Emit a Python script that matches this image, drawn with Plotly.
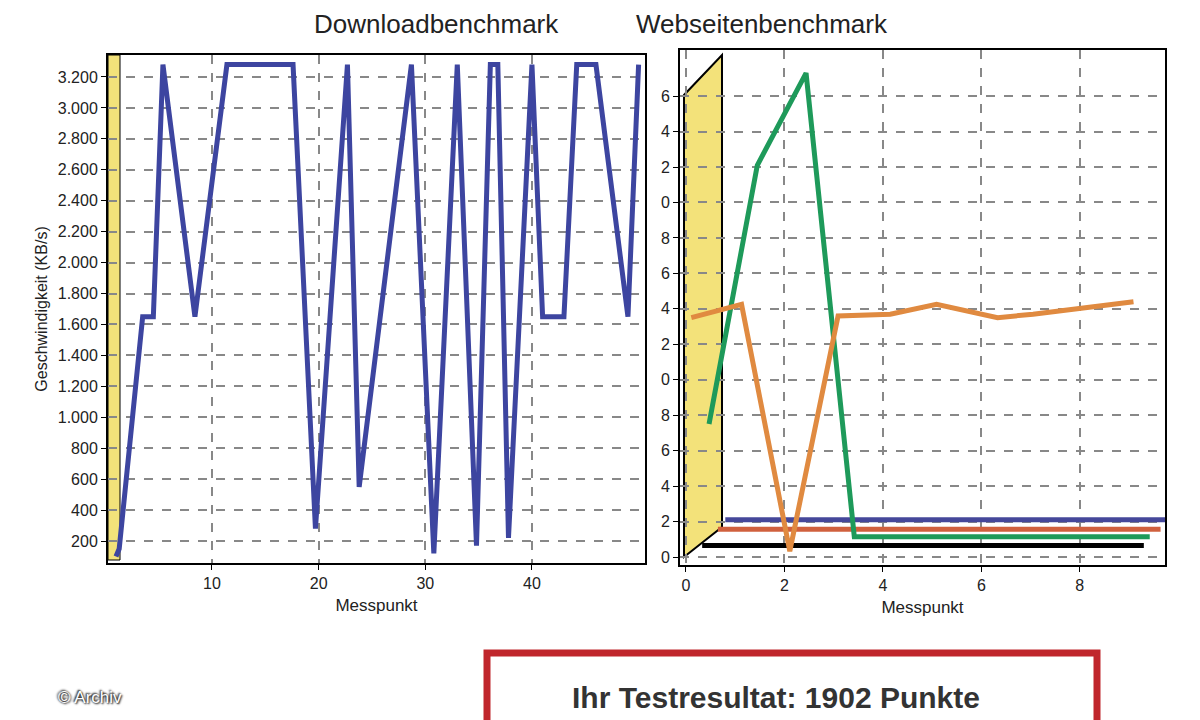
import plotly.graph_objects as go

# Download benchmark
dl_x = [1, 1.3, 3.5, 4.5, 5.4, 8.4, 11.4, 17.6, 19.7, 22.7, 23.8, 28.7, 30.8, 33, 34.8, 36.1, 36.8, 37.8, 40, 41, 43, 44.2, 46, 49, 50]
dl_y = [100, 150, 1650, 1650, 3280, 1650, 3280, 3280, 280, 3280, 550, 3280, 120, 3280, 170, 3280, 3280, 220, 3280, 1650, 1650, 3280, 3280, 1650, 3280]
dl_ticks = [200, 400, 600, 800, 1000, 1200, 1400, 1600, 1800, 2000, 2200, 2400, 2600, 2800, 3000, 3200]
dl_ticktext = ["200", "400", "600", "800", "1.000", "1.200", "1.400", "1.600", "1.800", "2.000", "2.200", "2.400", "2.600", "2.800", "3.000", "3.200"]

# Website benchmark
green_x = [0.47, 1.45, 2.44, 3.42, 9.42]
green_y = [7.5, 22.1, 27.3, 1.15, 1.15]
orange_x = [0.11, 1.13, 2.11, 3.09, 4.15, 5.09, 6.33, 7.05, 9.09]
orange_y = [13.5, 14.25, 0.33, 13.6, 13.7, 14.25, 13.5, 13.7, 14.4]
blue_x = [0.8, 9.8]; blue_y = [2.1, 2.1]
red_x = [0.65, 9.64]; red_y = [1.57, 1.57]
black_x = [0.33, 9.3]; black_y = [0.65, 0.65]
ws_ticks = list(range(0, 27, 2))
ws_ticktext = [str(v)[-1] for v in ws_ticks]

W, H = 1200, 720
OFF = 8  # page body margin
def px(x): return (x - OFF) / W
def py(y): return 1 - (y - OFF) / H

fig = go.Figure()
fig.add_trace(go.Scatter(x=dl_x, y=dl_y, mode="lines", line=dict(color="#3d45a0", width=5), xaxis="x", yaxis="y"))
for xs, ys, c in [(blue_x, blue_y, "#45479a"), (red_x, red_y, "#d0603e"), (black_x, black_y, "#000000"),
                  (green_x, green_y, "#1e9a5a"), (orange_x, orange_y, "#e08a40")]:
    fig.add_trace(go.Scatter(x=xs, y=ys, mode="lines", line=dict(color=c, width=5), xaxis="x2", yaxis="y2"))

grid = dict(showgrid=True, gridcolor="#888", griddash="dash", gridwidth=1.5, zeroline=False,
            showline=True, linecolor="black", linewidth=2, mirror=True, ticks="outside",
            tickcolor="black", tickfont=dict(size=16, color="#222"))
fig.update_layout(
    width=W, height=H, margin=dict(l=0, r=0, t=0, b=0), showlegend=False,
    paper_bgcolor="white", plot_bgcolor="white", font=dict(family="Liberation Sans, Arial", color="#222"),
    xaxis=dict(domain=[px(108), px(645)], range=[0.25, 50.6], tickvals=[10, 20, 30, 40],
               title=dict(text="Messpunkt", font=dict(size=17), standoff=8), **grid),
    yaxis=dict(domain=[py(563), py(55)], range=[58, 3342], tickvals=dl_ticks, ticktext=dl_ticktext,
               title=dict(text="Geschwindigkeit (KB/s)", font=dict(size=16), standoff=6), **grid),
    xaxis2=dict(domain=[px(680), px(1165)], range=[-0.12, 9.73], tickvals=[0, 2, 4, 6, 8], anchor="y2",
                title=dict(text="Messpunkt", font=dict(size=17), standoff=8), **grid),
    yaxis2=dict(domain=[py(565), py(50)], range=[-0.45, 28.6], tickvals=ws_ticks, ticktext=ws_ticktext,
                anchor="x2", **grid),
)
# yellow side walls
fig.add_shape(type="rect", xref="paper", yref="paper", x0=px(108), x1=px(120), y0=py(560), y1=py(55),
              fillcolor="#f3e27a", line=dict(color="black", width=1), layer="below")
fig.add_shape(type="path", xref="paper", yref="paper",
              path=f"M {px(684)},{py(557)} L {px(722)},{py(527)} L {px(722)},{py(55)} L {px(684)},{py(95)} Z",
              fillcolor="#f3e27a", line=dict(color="black", width=2), layer="below")
# titles
fig.add_annotation(x=px(312), y=py(24), xref="paper", yref="paper", yanchor="middle", text="Downloadbenchmark",
                   showarrow=False, font=dict(size=26, color="#222"))
fig.add_annotation(x=px(890), y=py(24), xref="paper", yref="paper", yanchor="middle", text="Webseitenbenchmark",
                   showarrow=False, font=dict(size=26, color="#222"))
# result box
fig.add_shape(type="rect", xref="paper", yref="paper", x0=px(487), x1=px(1097), y0=py(740), y1=py(653),
              line=dict(color="#c0262c", width=7), fillcolor="white")
fig.add_annotation(x=px(776), y=py(697), xref="paper", yref="paper", yanchor="middle",
                   text="<b>Ihr Testresultat: 1902 Punkte</b>",
                   showarrow=False, font=dict(size=30, color="#333"))
fig.add_annotation(x=px(56), y=py(697), xref="paper", yref="paper", yanchor="middle", text="© Archiv",
                   showarrow=False,
                   font=dict(size=17, color="white", shadow="1px 1px 2px black, -1px -1px 2px black"))
fig.write_html("out.html")
